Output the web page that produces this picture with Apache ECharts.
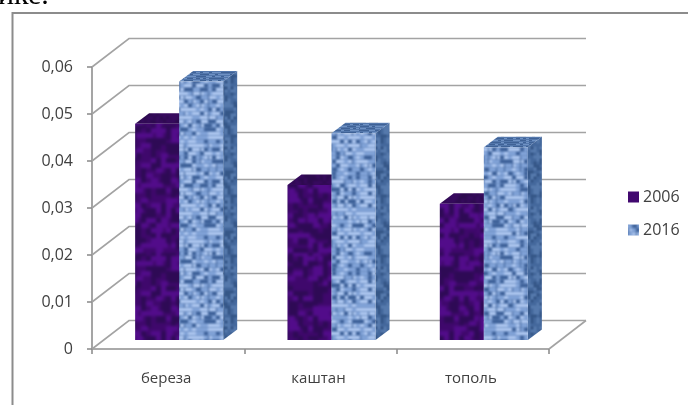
<!DOCTYPE html>
<html>
<head>
<meta charset="utf-8">
<style>html,body{margin:0;padding:0;background:#fff}#chart{width:688px;height:405px}</style>
<script src="https://cdn.jsdelivr.net/npm/echarts@6/dist/echarts.min.js"></script>
</head>
<body>
<div id="chart"></div>
<script>
const categories = ['береза', 'каштан', 'тополь'];
const years = ['2006', '2016'];
const values2006 = [0.046, 0.033, 0.029];
const values2016 = [0.055, 0.044, 0.041];
const yTicks = [0, 0.01, 0.02, 0.03, 0.04, 0.05, 0.06];

// Oblique projection offsets, in pixels
const WALL = [37, -28.5];     // front plane to back wall
const FLOOR = [11, -9];       // front plane to bar front face
const DEPTH = [14, -10.5];    // bar front face to bar back face
const BAR_SHARE = 0.289;      // bar width as a share of the category band

// Small deterministic hash for cloth-like fabric noise
function noise(x, y) {
  const s = Math.sin(x * 127.1 + y * 311.7) * 43758.5453;
  return s - Math.floor(s);
}

function fabric(w, h, base, blur, paint) {
  const raw = document.createElement('canvas');
  raw.width = w; raw.height = h;
  const c = raw.getContext('2d');
  c.fillStyle = base;
  c.fillRect(0, 0, w, h);
  paint(c, w, h);
  // Tile 3x3 first, then blur and keep the centre, so the tile edges stay seamless
  const big = document.createElement('canvas');
  big.width = w * 3; big.height = h * 3;
  const b = big.getContext('2d');
  for (let i = 0; i < 3; i++) for (let j = 0; j < 3; j++) b.drawImage(raw, i * w, j * h);
  const out = document.createElement('canvas');
  out.width = w; out.height = h;
  const o = out.getContext('2d');
  o.filter = 'blur(' + blur + 'px)';
  o.drawImage(big, -w, -h);
  return { image: out, repeat: 'repeat' };
}

const purpleFace = fabric(96, 128, '#3f086c', 1.6, (c, w, h) => {
  for (let y = 0; y < h; y += 5) for (let x = 0; x < w; x += 5) {
    const n = noise(x, y);
    if (n > 0.72) { c.fillStyle = '#520c8a'; c.fillRect(x, y, 7, 5); }
    else if (n < 0.32) { c.fillStyle = '#2e0a55'; c.fillRect(x, y, 5, 7); }
  }
});
const purpleTop = fabric(40, 40, '#370a5e', 1, (c, w, h) => {
  for (let y = 0; y < h; y += 3) for (let x = 0; x < w; x += 3) {
    if (noise(x, y) > 0.6) { c.fillStyle = '#2c0a4e'; c.fillRect(x, y, 3, 3); }
  }
});
const blueFace = fabric(96, 96, '#86a8de', 0.9, (c, w, h) => {
  for (let y = 0; y < h; y += 4) {
    for (let x = 0; x < w; x += 4) {
      const n = noise(x + 3, y + 7);
      c.fillStyle = n > 0.55 ? '#b4cdf5' : n > 0.2 ? '#85a7dc' : '#3a5e96';
      c.fillRect(x, y, 4, 3);
    }
    c.fillStyle = 'rgba(50,80,130,0.4)';
    c.fillRect(0, y + 3, w, 1);
  }
  for (let x = 0; x < w; x += 8) for (let y = 0; y < h; y += 4) {
    if (noise(x, y + 11) > 0.7) { c.fillStyle = '#3a5e96'; c.fillRect(x, y, 1, 4); }
  }
});
const blueSide = fabric(30, 60, '#3e6296', 0.8, (c, w, h) => {
  for (let y = 0; y < h; y += 3) for (let x = 0; x < w; x += 3) {
    const n = noise(x + 5, y + 2);
    c.fillStyle = n > 0.65 ? '#7396c8' : n > 0.3 ? '#4b70a4' : '#2a4875';
    c.fillRect(x, y, 2, 2);
  }
});
const blueTop = fabric(40, 30, '#5377ac', 0.6, (c, w, h) => {
  for (let y = 0; y < h; y += 2) for (let x = 0; x < w; x += 3) {
    const n = noise(x + 9, y + 4);
    c.fillStyle = n > 0.55 ? '#6f92c4' : '#3f6296';
    c.fillRect(x, y, 3, 1);
  }
});

// Draws one 3D column; slot 0 sits left of the band centre, slot 1 right of it
function columnRenderer(slot, front, side, top) {
  return function (params, api) {
    const base = api.coord([api.value(0), 0]);
    const head = api.coord([api.value(0), api.value(1)]);
    const bw = api.size([1, 0])[0] * BAR_SHARE;
    const x0 = base[0] + FLOOR[0] + (slot - 1) * bw;
    const x1 = x0 + bw;
    const yb = base[1] + FLOOR[1];
    const yt = head[1] + FLOOR[1];
    const poly = (points, fill) => ({ type: 'polygon', shape: { points }, style: { fill } });
    return {
      type: 'group',
      children: [
        poly([[x1, yb], [x1 + DEPTH[0], yb + DEPTH[1]], [x1 + DEPTH[0], yt + DEPTH[1]], [x1, yt]], side),
        poly([[x0, yt], [x1, yt], [x1 + DEPTH[0], yt + DEPTH[1]], [x0 + DEPTH[0], yt + DEPTH[1]]], top),
        poly([[x0, yb], [x1, yb], [x1, yt], [x0, yt]], front)
      ]
    };
  };
}

// Back-wall gridlines, with the diagonals running back from the value axis
function wallRenderer(params, api) {
  const cs = params.coordSys;
  const y = api.coord([0, api.value(1)])[1];
  const stroke = { stroke: '#a3a3a3', lineWidth: 1.6, fill: 'none' };
  const children = [
    { type: 'polyline', shape: { points: [[cs.x, y], [cs.x + WALL[0], y + WALL[1]], [cs.x + cs.width + WALL[0], y + WALL[1]]] }, style: stroke }
  ];
  if (api.value(1) === 0) {
    children.push({ type: 'line', shape: { x1: cs.x + cs.width, y1: y, x2: cs.x + cs.width + WALL[0], y2: y + WALL[1] }, style: stroke });
  }
  return { type: 'group', children };
}

const chart = echarts.init(document.getElementById('chart'), null, { renderer: 'canvas' });
const labelFont = '"Open Sans", sans-serif';
chart.setOption({
  animation: false,
  backgroundColor: '#fff',
  grid: { left: 92, right: 139, top: 67, bottom: 56 },
  xAxis: {
    type: 'category',
    data: categories,
    axisLine: { lineStyle: { color: '#8f8f8f', width: 1.6 } },
    axisTick: { show: true, length: 5, lineStyle: { color: '#8f8f8f', width: 1.6 } },
    axisLabel: { color: '#404040', fontSize: 15, fontFamily: labelFont, margin: 22, padding: [0, 4, 0, 0] }
  },
  yAxis: {
    type: 'value',
    min: 0,
    max: 0.06,
    interval: 0.01,
    axisLine: { show: true, lineStyle: { color: '#8f8f8f', width: 1.6 } },
    axisTick: { show: true, length: 5, lineStyle: { color: '#8f8f8f', width: 1.6 } },
    splitLine: { show: false },
    axisLabel: {
      color: '#404040', fontSize: 16, fontFamily: labelFont, margin: 19,
      formatter: v => (v === 0 ? '0' : v.toFixed(2).replace('.', ','))
    }
  },
  legend: {
    orient: 'vertical',
    left: 623,
    top: 184,
    itemWidth: 11,
    itemHeight: 11,
    itemGap: 17,
    icon: 'rect',
    selectedMode: false,
    textStyle: { color: '#404040', fontSize: 16, fontFamily: labelFont, padding: [0, 0, 0, -1] },
    data: [
      { name: years[0], itemStyle: { color: '#41086f' } },
      { name: years[1], itemStyle: { color: blueFace } }
    ]
  },
  graphic: [
    { type: 'polyline', silent: true, z: 5, shape: { points: [[12.5, 405], [12.5, 13], [688, 13]] }, style: { stroke: '#8c8c8c', lineWidth: 2, fill: 'none' } },
    { type: 'text', silent: true, z: 5, x: -2, y: -19, style: { text: 'ике.', fill: '#000', font: '30px "Liberation Serif", serif' } }
  ],
  series: [
    {
      type: 'custom', name: 'walls', silent: true, z: 1, clip: false,
      renderItem: wallRenderer,
      data: yTicks.map(v => [0, v]),
      encode: { x: 0, y: 1 }
    },
    {
      type: 'custom', name: years[0], silent: true, z: 2, clip: false,
      itemStyle: { color: '#41086f' },
      renderItem: columnRenderer(0, purpleFace, purpleFace, purpleTop),
      data: values2006.map((v, i) => [i, v]),
      encode: { x: 0, y: 1 }
    },
    {
      type: 'custom', name: years[1], silent: true, z: 3, clip: false,
      itemStyle: { color: '#8fb1e6' },
      renderItem: columnRenderer(1, blueFace, blueSide, blueTop),
      data: values2016.map((v, i) => [i, v]),
      encode: { x: 0, y: 1 }
    }
  ]
});
</script>
</body>
</html>
